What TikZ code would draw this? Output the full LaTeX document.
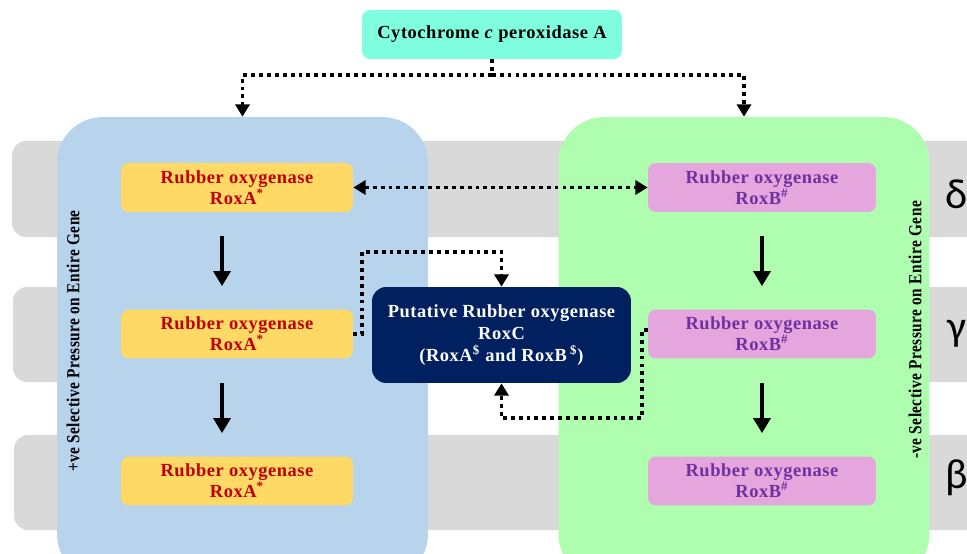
\documentclass[tikz,border=0pt]{standalone}
\usepackage{fontspec}
\setmainfont{Liberation Serif}
\newfontfamily\greekfont{Carlito}
\usetikzlibrary{arrows.meta}

\definecolor{bandgray}{HTML}{D9D9D9}
\definecolor{posfill}{HTML}{B8D3EC}
\definecolor{negfill}{HTML}{AFFDAF}
\definecolor{cytofill}{HTML}{7FFFDF}
\definecolor{roxafill}{HTML}{FFD966}
\definecolor{roxatext}{HTML}{C00000}
\definecolor{roxbfill}{HTML}{E4A6DC}
\definecolor{roxbtext}{HTML}{7030A0}
\definecolor{roxcfill}{HTML}{002060}

\begin{document}
\begin{tikzpicture}[x=0.02cm, y=-0.02cm,
    box/.style={rounded corners=4.5pt, align=center, inner sep=0pt,
                font=\bfseries\fontsize{10.5}{12}\selectfont\addfontfeatures{LetterSpace=3}},
    roxa/.style={box, fill=roxafill, text=roxatext, minimum width=4.64cm, minimum height=0.98cm},
    roxb/.style={box, fill=roxbfill, text=roxbtext, minimum width=4.56cm, minimum height=0.98cm},
    panel/.style={rounded corners=26pt, minimum width=7.42cm, minimum height=9.26cm, inner sep=0pt},
    band/.style={fill=bandgray, rounded corners=8pt},
    link/.style={line width=2.2pt, dash pattern=on 2.2pt off 2.3pt},
    tip/.style={-{Triangle[length=7pt,width=8pt]}},
    flow/.style={line width=2.8pt, -{Triangle[length=8.5pt,width=9.5pt]},
                 shorten <=0.48cm, shorten >=0.46cm},
    side/.style={rotate=90, font=\bfseries\fontsize{10.5}{12}\selectfont\addfontfeatures{LetterSpace=3}},
    greek/.style={font=\greekfont\fontsize{24}{24}\selectfont}]

                  % Canvas
                  \useasboundingbox (0,0) rectangle (967,554);
                  \clip (0,0) rectangle (967,554);

                  % Draw gray bands
                  \fill[band] (12,141) rectangle (990,237);
                  \fill[band] (13,287) rectangle (990,382);
                  \fill[band] (14,435) rectangle (990,530);

                  % Greek labels
                  \node[greek] (delta) at (957,194) {δ};
                  \node[greek] (gamma) at (957,334) {γ};
                  \node[greek] (beta)  at (957,478) {β};

                  % Draw panels
                  \node[panel, fill=posfill] (pos) at (242.5,348.5) {};
                  \node[panel, fill=negfill] (neg) at (744,348.5) {};

                  % Panel labels
                  \node[side] (poslabel) at (73,341) {\scalebox{0.83}[1]{+ve Selective Pressure on Entire Gene}};
                  \node[side] (neglabel) at (915,330) {\scalebox{0.83}[1]{-ve Selective Pressure on Entire Gene}};

                  % Define boxes
                  \node[box, fill=cytofill, minimum width=5.2cm, minimum height=0.98cm] (cyto) at (492,34.5)
                      {Cytochrome \textit{c} peroxidase A};

                  \node[roxa] (roxa1) at (237,187.5) {Rubber oxygenase\\RoxA\textsuperscript{*}};
                  \node[roxa] (roxa2) at (237,334) {Rubber oxygenase\\RoxA\textsuperscript{*}};
                  \node[roxa] (roxa3) at (237,481) {Rubber oxygenase\\RoxA\textsuperscript{*}};

                  \node[roxb] (roxb1) at (762,187.5) {Rubber oxygenase\\RoxB\textsuperscript{\#}};
                  \node[roxb] (roxb2) at (762,334) {Rubber oxygenase\\RoxB\textsuperscript{\#}};
                  \node[roxb] (roxb3) at (762,481) {Rubber oxygenase\\RoxB\textsuperscript{\#}};

                  \node[box, rounded corners=8pt, fill=roxcfill, text=white, minimum width=5.18cm,
                        minimum height=1.92cm, font=\bfseries\fontsize{10.5}{12.7}\selectfont\addfontfeatures{LetterSpace=3}]
                        (roxc) at (501.5,335)
                      {Putative Rubber oxygenase\\RoxC\\(RoxA\textsuperscript{\$} and RoxB\,\textsuperscript{\$})};

                  % Solid arrows
                  \draw[flow] ([xshift=-0.3cm]roxa1.south) -- ([xshift=-0.3cm]roxa2.north);
                  \draw[flow] ([xshift=-0.3cm]roxa2.south) -- ([xshift=-0.3cm]roxa3.north);
                  \draw[flow] (roxb1.south) -- (roxb2.north);
                  \draw[flow] (roxb2.south) -- (roxb3.north);

                  % Dotted links
                  \draw[link, tip] (cyto.south) -- ++(0,16) -| (pos.north);
                  \draw[link, tip] (cyto.south) -- ++(0,16) -| (neg.north);
                  \draw[link, {Triangle[length=7pt,width=8pt]}-{Triangle[length=7pt,width=8pt]}] (roxa1.east) -- (roxb1.west);
                  \draw[link, tip] (roxa2.east) -- ++(9,0) |- ([yshift=0.7cm]roxc.north) -- (roxc.north);
                  \draw[link, tip] ([yshift=0.08cm]roxb2.west) -- ++(-6,0) |- ([yshift=-0.7cm]roxc.south) -- (roxc.south);

              \end{tikzpicture}
\end{document}
